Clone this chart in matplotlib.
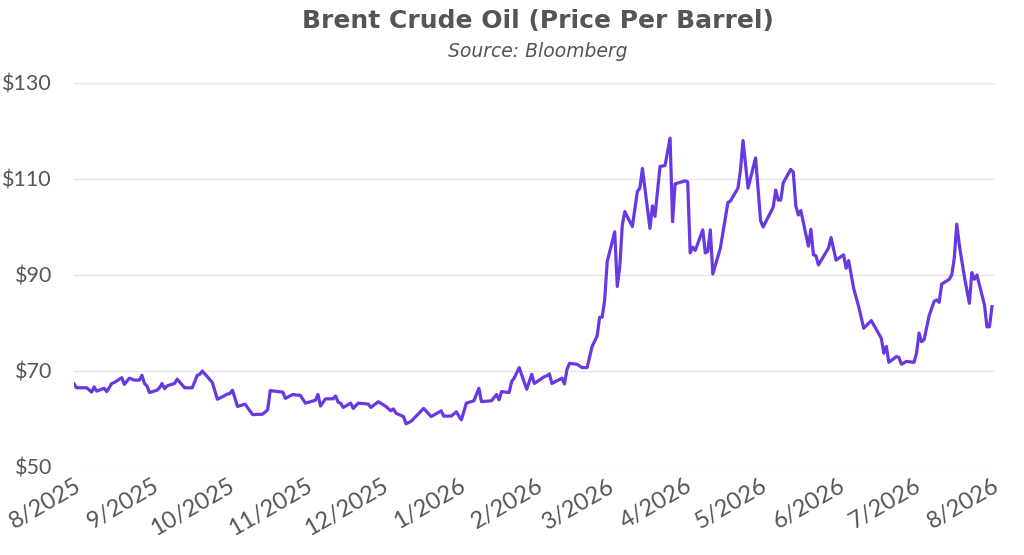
import pandas as pd
import matplotlib
matplotlib.use("Agg")
import matplotlib.pyplot as plt
import matplotlib.dates as mdates

# Brent crude (date, USD per barrel)
dates = [
    "2025-08-01", "2025-08-02", "2025-08-06", "2025-08-08", "2025-08-09", "2025-08-10",
    "2025-08-13", "2025-08-14", "2025-08-16", "2025-08-17", "2025-08-20", "2025-08-21",
    "2025-08-23", "2025-08-25", "2025-08-27", "2025-08-28", "2025-08-29", "2025-08-30",
    "2025-08-31", "2025-09-03", "2025-09-04", "2025-09-05", "2025-09-06", "2025-09-07",
    "2025-09-10", "2025-09-11", "2025-09-14", "2025-09-17", "2025-09-19", "2025-09-20",
    "2025-09-21", "2025-09-25", "2025-09-27", "2025-10-01", "2025-10-02", "2025-10-03",
    "2025-10-05", "2025-10-08", "2025-10-11", "2025-10-15", "2025-10-17", "2025-10-18",
    "2025-10-23", "2025-10-24", "2025-10-27", "2025-10-30", "2025-11-01", "2025-11-05",
    "2025-11-06", "2025-11-07", "2025-11-09", "2025-11-12", "2025-11-13", "2025-11-14",
    "2025-11-15", "2025-11-16", "2025-11-19", "2025-11-20", "2025-11-22", "2025-11-26",
    "2025-11-27", "2025-11-30", "2025-12-03", "2025-12-05", "2025-12-06", "2025-12-07",
    "2025-12-10", "2025-12-11", "2025-12-13", "2025-12-18", "2025-12-21", "2025-12-25",
    "2025-12-26", "2025-12-29", "2025-12-31", "2026-01-02", "2026-01-04", "2026-01-07",
    "2026-01-09", "2026-01-10", "2026-01-14", "2026-01-16", "2026-01-17", "2026-01-18",
    "2026-01-21", "2026-01-22", "2026-01-23", "2026-01-25", "2026-01-28", "2026-01-30",
    "2026-01-31", "2026-02-04", "2026-02-05", "2026-02-06", "2026-02-07", "2026-02-11",
    "2026-02-12", "2026-02-13", "2026-02-14", "2026-02-17", "2026-02-19", "2026-02-21",
    "2026-02-23", "2026-02-25", "2026-02-26", "2026-02-27", "2026-02-28", "2026-03-01",
    "2026-03-04", "2026-03-05", "2026-03-06", "2026-03-07", "2026-03-08", "2026-03-11",
    "2026-03-13", "2026-03-14", "2026-03-15", "2026-03-18", "2026-03-19", "2026-03-20",
    "2026-03-22", "2026-03-24", "2026-03-26", "2026-03-27", "2026-03-28", "2026-04-01",
    "2026-04-02", "2026-04-03", "2026-04-04", "2026-04-05", "2026-04-08", "2026-04-09",
    "2026-04-10", "2026-04-11", "2026-04-12", "2026-04-15", "2026-04-18", "2026-04-19",
    "2026-04-22", "2026-04-23", "2026-04-24", "2026-04-26", "2026-04-29", "2026-05-01",
    "2026-05-02", "2026-05-06", "2026-05-07", "2026-05-08", "2026-05-09", "2026-05-10",
    "2026-05-13", "2026-05-14", "2026-05-15", "2026-05-16", "2026-05-17", "2026-05-20",
    "2026-05-21", "2026-05-22", "2026-05-23", "2026-05-24", "2026-05-28", "2026-05-29",
    "2026-05-31", "2026-06-03", "2026-06-04", "2026-06-05", "2026-06-07", "2026-06-09",
    "2026-06-11", "2026-06-14", "2026-06-18", "2026-06-19", "2026-06-20", "2026-06-21",
    "2026-06-24", "2026-06-25", "2026-06-26", "2026-06-28", "2026-07-01", "2026-07-02",
    "2026-07-03", "2026-07-04", "2026-07-05", "2026-07-07", "2026-07-09", "2026-07-10",
    "2026-07-11", "2026-07-12", "2026-07-15", "2026-07-16", "2026-07-17", "2026-07-18",
    "2026-07-19", "2026-07-21", "2026-07-23", "2026-07-24", "2026-07-25", "2026-07-26",
    "2026-07-29", "2026-07-30", "2026-07-31", "2026-08-01",
]
prices = [
    67.3, 66.5, 66.5, 65.6, 66.7, 65.8,
    66.4, 65.7, 67.4, 67.6, 68.6, 67.2,
    68.5, 68.1, 68.1, 69.1, 67.4, 66.9,
    65.5, 66.0, 66.5, 67.4, 66.3, 66.9,
    67.4, 68.3, 66.5, 66.5, 69.1, 69.3,
    70.0, 67.6, 64.1, 65.2, 65.3, 66.0,
    62.6, 63.1, 60.9, 61.0, 61.9, 65.9,
    65.6, 64.3, 65.1, 64.9, 63.3, 63.9,
    65.1, 62.7, 64.2, 64.2, 64.8, 63.5,
    63.3, 62.4, 63.3, 62.2, 63.3, 63.1,
    62.4, 63.6, 62.6, 61.7, 62.1, 61.2,
    60.5, 59.0, 59.5, 62.2, 60.5, 61.7,
    60.6, 60.6, 61.5, 59.8, 63.3, 63.8,
    66.4, 63.6, 63.8, 65.1, 64.0, 65.7,
    65.5, 67.8, 68.5, 70.7, 66.2, 69.3,
    67.4, 68.8, 69.0, 69.4, 67.4, 68.5,
    67.3, 70.3, 71.6, 71.4, 70.7, 70.7,
    75.1, 77.3, 81.2, 81.2, 84.8, 92.8,
    99.0, 87.6, 91.7, 100.4, 103.2, 100.1,
    107.4, 108.1, 112.2, 99.7, 104.4, 102.2,
    112.6, 112.8, 118.5, 101.1, 109.0, 109.6,
    109.4, 94.6, 95.8, 95.1, 99.4, 94.6,
    94.9, 99.4, 90.2, 95.6, 105.1, 105.4,
    108.1, 111.9, 118.0, 108.1, 114.4, 101.3,
    100.0, 104.1, 107.7, 105.6, 105.6, 109.2,
    112.0, 111.4, 104.4, 102.5, 103.4, 96.0,
    99.5, 94.2, 94.0, 92.1, 95.6, 97.8,
    93.1, 94.2, 91.4, 93.0, 87.2, 83.4,
    78.9, 80.5, 76.8, 73.7, 75.1, 71.8,
    73.0, 72.8, 71.4, 72.0, 71.8, 73.7,
    77.9, 76.1, 76.5, 81.5, 84.5, 84.8,
    84.3, 88.1, 89.1, 90.0, 93.5, 100.6,
    96.3, 89.7, 84.1, 90.5, 89.1, 90.0,
    83.8, 79.2, 79.2, 83.4,
]
y_ticks = [50, 70, 90, 110, 130]

TEXT = "#555555"
LINE = "#6838E0"
GRID = "#E6E6E6"

plt.rcParams["font.family"] = ["Lato", "DejaVu Sans"]

x = pd.to_datetime(dates)

fig = plt.figure(figsize=(10.24, 5.55), dpi=100)
ax = fig.add_axes([0.0723, 0.1586, 0.8994, 0.6919])

ax.plot(x, prices, color=LINE, linewidth=2.3, solid_joinstyle="round")

ax.set_ylim(50, 130)
ax.set_yticks(y_ticks)
ax.set_yticklabels([f"${v}" for v in y_ticks])
ax.set_xlim(pd.Timestamp("2025-08-01"), pd.Timestamp("2026-08-02 05:00"))
ax.xaxis.set_major_locator(mdates.MonthLocator())
ax.xaxis.set_major_formatter(
    plt.FuncFormatter(lambda v, p: f"{mdates.num2date(v).month}/{mdates.num2date(v).year}"))

ax.grid(axis="y", color=GRID, linewidth=1)
ax.set_axisbelow(True)
for s in ax.spines.values():
    s.set_visible(False)
ax.tick_params(axis="both", length=0, colors=TEXT)
ax.tick_params(axis="y", pad=16, labelsize=15.5)
ax.tick_params(axis="x", pad=6, labelsize=17)
for lab in ax.get_xticklabels():
    lab.set_rotation(30)
    lab.set_horizontalalignment("right")
    lab.set_rotation_mode("anchor")

fig.text(0.525, 0.962, "Brent Crude Oil (Price Per Barrel)", ha="center", va="center",
         fontsize=18, fontweight="bold", color=TEXT, family="DejaVu Sans")
fig.text(0.525, 0.907, "Source: Bloomberg", ha="center", va="center",
         fontsize=13.5, style="italic", color=TEXT, family="DejaVu Sans")

fig.savefig("out.png", dpi=100)
